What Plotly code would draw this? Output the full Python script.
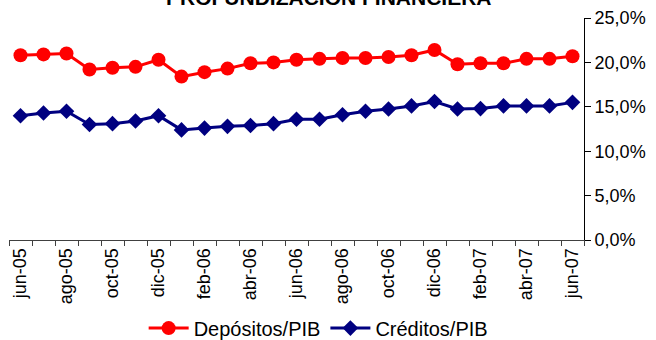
import plotly.graph_objects as go

months = ["jun-05", "jul-05", "ago-05", "sep-05", "oct-05", "nov-05", "dic-05",
          "ene-06", "feb-06", "mar-06", "abr-06", "may-06", "jun-06", "jul-06",
          "ago-06", "sep-06", "oct-06", "nov-06", "dic-06", "ene-07", "feb-07",
          "mar-07", "abr-07", "may-07", "jun-07"]

depositos = [20.8, 20.9, 21.0, 19.2, 19.4, 19.5, 20.3, 18.4, 18.9, 19.3, 19.9, 20.0,
             20.3, 20.4, 20.5, 20.5, 20.6, 20.8, 21.4, 19.8, 19.9, 19.9, 20.4, 20.4, 20.7]

creditos = [14.0, 14.3, 14.5, 13.0, 13.1, 13.4, 14.0, 12.4, 12.6, 12.8, 12.9, 13.1,
            13.6, 13.6, 14.1, 14.5, 14.75, 15.1, 15.6, 14.75, 14.8, 15.1, 15.1, 15.1, 15.5]

tick_text = [m if i % 2 == 0 else "" for i, m in enumerate(months)]
y_ticks = [0, 5, 10, 15, 20, 25]
y_tick_text = ["0,0%", "5,0%", "10,0%", "15,0%", "20,0%", "25,0%"]

FONT = "Arial, Liberation Sans, sans-serif"

fig = go.Figure()
fig.add_trace(go.Scatter(
    x=months, y=depositos, name="Depósitos/PIB", mode="lines+markers",
    line=dict(color="#FF0000", width=3),
    marker=dict(symbol="circle", size=14, color="#FF0000"),
))
fig.add_trace(go.Scatter(
    x=months, y=creditos, name="Créditos/PIB", mode="lines+markers",
    line=dict(color="#000080", width=3),
    marker=dict(symbol="diamond", size=12, color="#000080"),
))

fig.update_layout(
    width=656, height=340,
    margin=dict(l=9, r=72, t=18, b=100, autoexpand=False),
    paper_bgcolor="white", plot_bgcolor="white",
    font=dict(family=FONT, size=18, color="black"),
    showlegend=True,
    legend=dict(orientation="h", xref="container", x=0.485, xanchor="center",
                yref="container", y=0.035, yanchor="middle",
                font=dict(size=20), bgcolor="rgba(0,0,0,0)", itemwidth=40,
                tracegroupgap=0),
    annotations=[dict(text="<b>PROFUNDIZACIÓN FINANCIERA</b>", xref="paper", yref="paper",
                      x=0.557, y=1.0315, xanchor="center", yanchor="bottom",
                      showarrow=False, font=dict(size=21, family=FONT, color="black"))],
)

fig.update_xaxes(
    type="category", categoryorder="array", categoryarray=months,
    range=[-0.5, 24.5],
    tickmode="array", tickvals=months, ticktext=tick_text,
    tickson="boundaries", ticks="outside", ticklen=5, tickcolor="#404040",
    tickangle=-90, tickfont=dict(size=18),
    showline=True, linecolor="#404040", linewidth=1,
    showgrid=False, zeroline=False,
)
fig.update_yaxes(
    side="right", range=[0, 25],
    tickmode="array", tickvals=y_ticks, ticktext=y_tick_text,
    ticks="outside", ticklen=6, tickcolor="black",
    showline=True, linecolor="black", linewidth=1,
    showgrid=False, zeroline=False, tickfont=dict(size=18),
)

fig.write_html("out.html",
               config={"displayModeBar": False},
               post_script="document.body.style.margin='0';document.body.style.overflow='hidden';")
